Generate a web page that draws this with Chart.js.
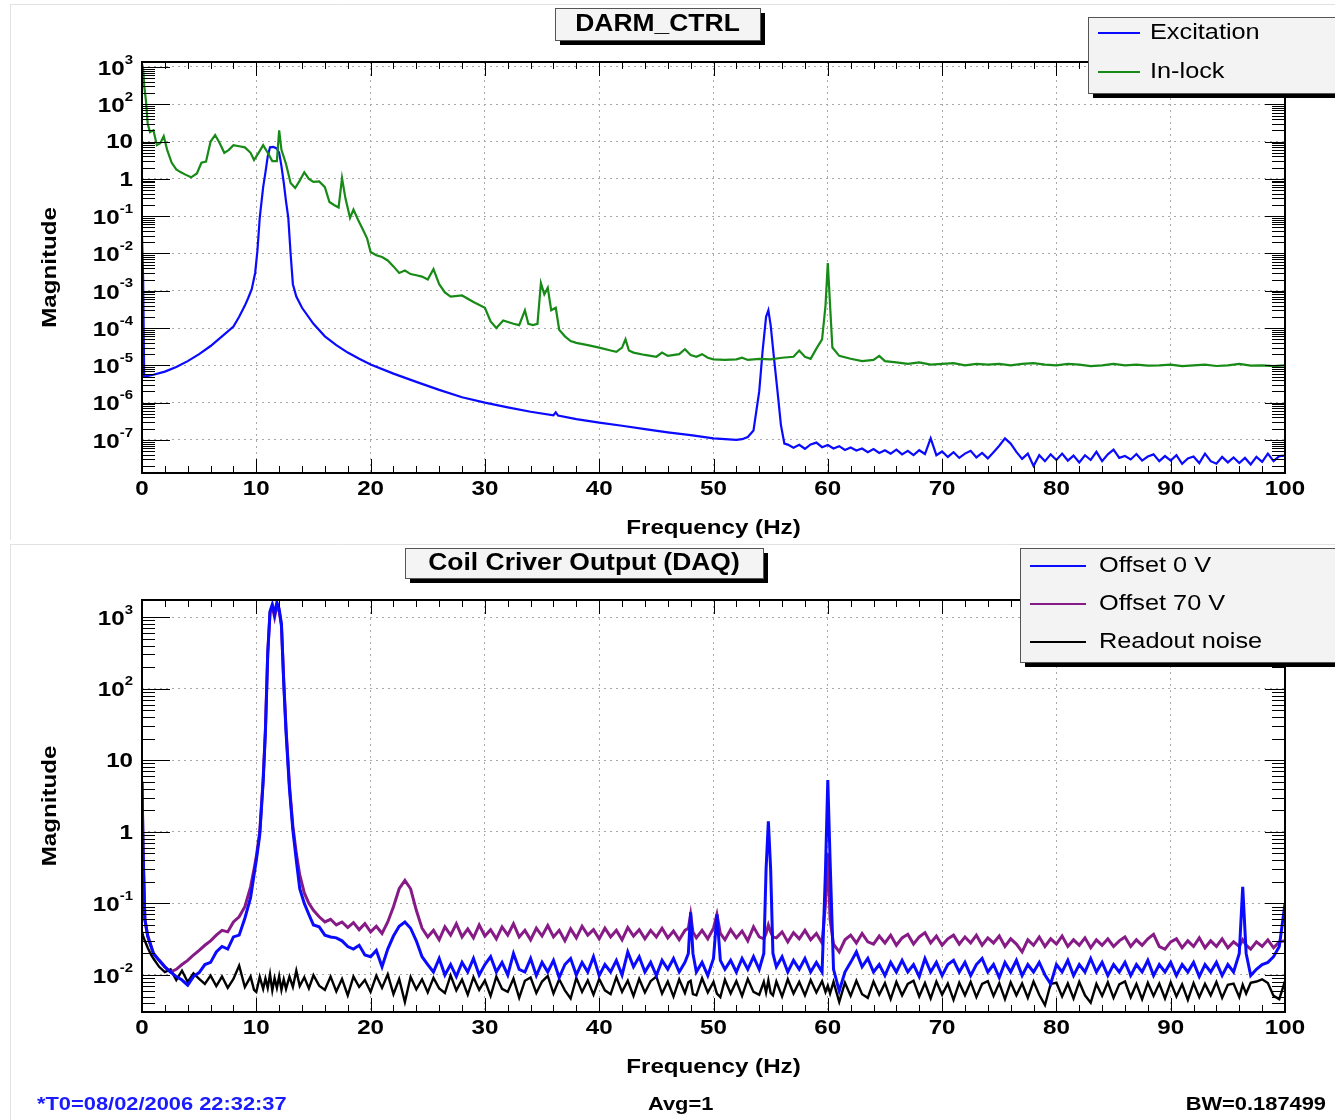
<!DOCTYPE html>
<html>
<head>
<meta charset="utf-8">
<title>DARM_CTRL / Coil Driver Output</title>
<script src="https://cdn.jsdelivr.net/npm/chart.js@4.4.1/dist/chart.umd.min.js"></script>
<style>
    body { margin: 0; background: #fff; }
    #wrap { position: relative; width: 1335px; height: 1120px; overflow: hidden; }
    #darmChart { position: absolute; left: 0; top: 0; }
    #coilChart { position: absolute; left: 0; top: 540px; }
</style>
</head>
<body>
<div id="wrap">
    <canvas id="darmChart" width="1335" height="540"></canvas>
    <canvas id="coilChart" width="1335" height="580"></canvas>
</div>
<script>
// ---- data ----
const freqTicks = [0, 10, 20, 30, 40, 50, 60, 70, 80, 90, 100];
const darmTicks = [1e3, 1e2, 10, 1, 1e-1, 1e-2, 1e-3, 1e-4, 1e-5, 1e-6, 1e-7];
const coilTicks = [1e3, 1e2, 10, 1, 1e-1, 1e-2];

// DARM_CTRL: Excitation
const excFreq = [
    0, 0.1, 0.19, 0.5, 1, 2, 3, 4, 5, 6,
    7, 8, 8.5, 9, 9.3, 9.6, 9.9, 10.1, 10.3, 10.6,
    10.8, 11, 11.2, 11.5, 11.8, 12, 12.2, 12.4, 12.6, 12.8,
    13, 13.2, 13.5, 14, 15, 16, 17, 18, 19, 20,
    22, 24, 26, 28, 30, 32, 34, 36, 36.2, 36.4,
    38, 40, 42, 44, 46, 48, 50, 51, 52, 52.5,
    53, 53.5, 54, 54.3, 54.6, 54.8, 55, 55.3, 55.6, 55.9,
    56.2, 56.5, 57, 57.5, 58, 58.5, 59, 59.5, 60, 60.5,
    61, 61.5, 62, 62.5, 63, 63.5, 64, 64.5, 65, 65.5,
    66, 66.5, 67, 67.5, 68, 68.5, 69, 69.5, 70, 70.5,
    71, 71.5, 72, 72.5, 73, 73.5, 74, 74.5, 75, 75.5,
    76, 76.5, 77, 77.5, 78, 78.5, 79, 79.5, 80, 80.5,
    81, 81.5, 82, 82.5, 83, 83.5, 84, 84.5, 85, 85.5,
    86, 86.5, 87, 87.5, 88, 88.5, 89, 89.5, 90, 90.5,
    91, 91.5, 92, 92.5, 93, 93.5, 94, 94.5, 95, 95.5,
    96, 96.5, 97, 97.5, 98, 98.5, 99, 99.5, 100
];
const excMag = [
    0.03, 2e-3, 5e-6, 5.2e-6, 5.6e-6, 6.8e-6, 9e-6, 1.3e-5, 2e-5, 3.3e-5,
    6e-5, 1.1e-4, 2e-4, 4e-4, 6.5e-4, 1.1e-3, 3e-3, 1.2e-2, 0.09, 0.6,
    1.5, 4, 7, 7.2, 6.5, 5, 2.2, 0.8, 0.25, 0.09,
    0.01, 1.5e-3, 7e-4, 3.5e-4, 1.3e-4, 6e-5, 3.5e-5, 2.2e-5, 1.5e-5, 1.05e-5,
    6e-6, 3.6e-6, 2.2e-6, 1.4e-6, 1e-6, 7.5e-7, 5.7e-7, 4.6e-7, 5.5e-7, 4.5e-7,
    3.6e-7, 2.9e-7, 2.4e-7, 1.95e-7, 1.6e-7, 1.35e-7, 1.1e-7, 1.05e-7, 1e-7, 1.05e-7,
    1.2e-7, 1.8e-7, 2e-6, 2.5e-5, 2e-4, 3e-4, 1.2e-4, 1.5e-5, 2e-6, 2.5e-7,
    8e-8, 7.5e-8, 6.2e-8, 7.4e-8, 5.8e-8, 7.6e-8, 8.5e-8, 6.4e-8, 7.3e-8, 5.9e-8,
    6.8e-8, 5.4e-8, 6.3e-8, 5.2e-8, 5.9e-8, 4.7e-8, 5.7e-8, 4.5e-8, 5.3e-8, 4.3e-8,
    5.5e-8, 4.1e-8, 5.1e-8, 3.9e-8, 5.3e-8, 4.2e-8, 1.1e-7, 3.9e-8, 4.9e-8, 3.5e-8,
    4.7e-8, 3.3e-8, 4.3e-8, 5.1e-8, 3.4e-8, 4.5e-8, 3.2e-8, 4.7e-8, 7e-8, 1.1e-7,
    8e-8, 4.8e-8, 3.1e-8, 4.3e-8, 2e-8, 3.9e-8, 2.7e-8, 4.1e-8, 2.9e-8, 4.3e-8,
    2.8e-8, 3.8e-8, 2.5e-8, 3.9e-8, 2.9e-8, 4.8e-8, 2.7e-8, 4.1e-8, 5.5e-8, 3.3e-8,
    3.7e-8, 3e-8, 4.2e-8, 2.8e-8, 3.6e-8, 4.1e-8, 2.7e-8, 3.7e-8, 2.8e-8, 3.9e-8,
    2.3e-8, 3.2e-8, 3.6e-8, 2.4e-8, 4.3e-8, 2.7e-8, 2.3e-8, 3.5e-8, 2.5e-8, 3.4e-8,
    2.4e-8, 3.3e-8, 2.2e-8, 3.5e-8, 2.6e-8, 4.3e-8, 2.7e-8, 3.7e-8, 3.8e-8
];

// DARM_CTRL: In-lock
const lockFreq = [
    0, 0.1, 0.2, 0.35, 0.5, 0.7, 1, 1.3, 1.6, 1.9,
    2.2, 2.6, 3, 3.4, 3.8, 4.3, 4.8, 5.2, 5.6, 6,
    6.4, 6.8, 7.2, 7.6, 8, 8.5, 9, 9.5, 9.8, 10.2,
    10.6, 11, 11.4, 11.8, 12, 12.2, 12.6, 13, 13.4, 13.8,
    14.2, 14.6, 15, 15.5, 16, 16.4, 16.8, 17.2, 17.5, 17.8,
    18.2, 18.5, 18.9, 19.3, 19.7, 20, 20.5, 21, 21.5, 22,
    22.5, 23, 23.5, 24, 24.5, 25, 25.5, 26, 26.5, 27,
    28, 29, 30, 30.5, 31, 31.6, 32.5, 33, 33.5, 33.8,
    34.2, 34.6, 34.9, 35.2, 35.5, 35.8, 36.2, 36.5, 37, 37.5,
    38, 39, 40, 41, 41.5, 42, 42.3, 42.6, 43, 44,
    45, 45.5, 46, 47, 47.5, 48, 48.5, 49, 49.5, 50,
    51, 52, 52.5, 53, 54, 55, 56, 57, 57.5, 58,
    58.5, 59, 59.5, 59.8, 60, 60.2, 60.4, 61, 62, 63,
    64, 64.5, 65, 66, 67, 68, 69, 70, 71, 72,
    73, 74, 75, 76, 77, 78, 79, 80, 81, 82,
    83, 84, 85, 86, 87, 88, 89, 90, 91, 92,
    93, 94, 95, 96, 97, 98, 99, 100
];
const lockMag = [
    1200, 900, 300, 120, 30, 18, 20, 8, 9, 14,
    6, 2.7, 1.8, 1.5, 1.3, 1.1, 1.4, 2.7, 2.9, 10,
    15, 9, 5, 6, 8, 7.5, 7, 5, 3.2, 5,
    8, 5, 3, 3, 20, 6, 2.5, 0.78, 0.57, 0.9,
    1.5, 1, 0.83, 0.85, 0.6, 0.24, 0.2, 0.17, 1.05, 0.3,
    0.09, 0.15, 0.08, 0.045, 0.025, 0.011, 9e-3, 8e-3, 6.5e-3, 4.5e-3,
    3e-3, 3.5e-3, 2.8e-3, 2.6e-3, 2.4e-3, 2e-3, 3.8e-3, 1.5e-3, 9e-4, 7e-4,
    7.5e-4, 5e-4, 3.5e-4, 1.5e-4, 1e-4, 1.6e-4, 1.3e-4, 1.2e-4, 3e-4, 1.3e-4,
    1.2e-4, 1.3e-4, 1.6e-3, 8e-4, 1.2e-3, 3e-4, 3.5e-4, 9e-5, 6e-5, 4.5e-5,
    4e-5, 3.5e-5, 3e-5, 2.5e-5, 2.3e-5, 3e-5, 5e-5, 2.5e-5, 2.2e-5, 1.9e-5,
    1.7e-5, 2.2e-5, 1.8e-5, 2e-5, 2.7e-5, 1.9e-5, 1.7e-5, 2e-5, 1.6e-5, 1.45e-5,
    1.4e-5, 1.45e-5, 1.6e-5, 1.4e-5, 1.5e-5, 1.45e-5, 1.6e-5, 1.7e-5, 2.5e-5, 1.7e-5,
    1.5e-5, 2.8e-5, 5e-5, 4e-4, 5.5e-3, 4e-4, 3e-5, 1.8e-5, 1.5e-5, 1.3e-5,
    1.4e-5, 1.8e-5, 1.3e-5, 1.2e-5, 1.1e-5, 1.2e-5, 1.05e-5, 1.1e-5, 1.15e-5, 1e-5,
    1.1e-5, 1.05e-5, 1.1e-5, 1e-5, 1.1e-5, 1.15e-5, 1.05e-5, 1e-5, 1.1e-5, 1.05e-5,
    9.5e-6, 1e-5, 1.1e-5, 1e-5, 1.05e-5, 9.8e-6, 1e-5, 1.05e-5, 9.5e-6, 1e-5,
    1.05e-5, 9.6e-6, 1e-5, 1.1e-5, 9.8e-6, 1e-5, 9.5e-6, 1e-5
];

// Coil driver output: shared frequency grid
const coilFreq = [
    0, 0.1, 0.25, 0.5, 0.8, 1, 1.5, 2, 2.5,
    3, 3.5, 4, 4.5, 5, 5.5, 6, 6.5, 7, 7.5,
    8, 8.5, 9, 9.5, 9.8, 10, 10.3, 10.6, 10.8, 11,
    11.2, 11.4, 11.6, 11.8, 12, 12.2, 12.4, 12.6, 12.9, 13.2,
    13.5, 13.8, 14.2, 14.6, 15, 15.5, 16, 16.5, 17, 17.5,
    18, 18.5, 19, 19.5, 20, 20.5, 21, 21.5, 22, 22.5,
    23, 23.5, 24, 24.5, 25, 25.5, 26, 26.5, 27, 27.5,
    28, 28.5, 29, 29.5, 30, 30.5, 31, 31.5, 32, 32.5,
    33, 33.5, 34, 34.5, 35, 35.5, 36, 36.5, 37, 37.5,
    38, 38.5, 39, 39.5, 40, 40.5, 41, 41.5, 42, 42.5,
    43, 43.5, 44, 44.5, 45, 45.5, 46, 46.5, 47, 47.5,
    47.8, 48, 48.2, 48.5, 49, 49.5, 50, 50.3, 50.6, 51,
    51.5, 52, 52.5, 53, 53.5, 54, 54.4, 54.6, 54.8, 55,
    55.2, 55.5, 56, 56.5, 57, 57.5, 58, 58.5, 59, 59.5,
    59.8, 60, 60.2, 60.5, 61, 61.5, 62, 62.5, 63, 63.5,
    64, 64.5, 65, 65.5, 66, 66.5, 67, 67.5, 68, 68.5,
    69, 69.5, 70, 70.5, 71, 71.5, 72, 72.5, 73, 73.5,
    74, 74.5, 75, 75.5, 76, 76.5, 77, 77.5, 78, 78.5,
    79, 79.5, 80, 80.5, 81, 81.5, 82, 82.5, 83, 83.5,
    84, 84.5, 85, 85.5, 86, 86.5, 87, 87.5, 88, 88.5,
    89, 89.5, 90, 90.5, 91, 91.5, 92, 92.5, 93, 93.5,
    94, 94.5, 95, 95.5, 96, 96.3, 96.6, 97, 97.5, 98,
    98.5, 99, 99.5, 100
];
const offset0 = [
    5, 0.5, 0.06, 0.035, 0.025, 0.02, 0.016, 0.013, 0.011,
    0.0095, 0.0085, 0.0072, 0.0095, 0.0108, 0.014, 0.015, 0.021, 0.025, 0.023,
    0.034, 0.036, 0.062, 0.12, 0.25, 0.4, 0.9, 5, 25, 300,
    1200, 1500, 1100, 1600, 1300, 800, 120, 25, 4, 1.05,
    0.4, 0.16, 0.1, 0.07, 0.05, 0.047, 0.036, 0.034, 0.033, 0.03,
    0.025, 0.023, 0.026, 0.019, 0.018, 0.022, 0.013, 0.023, 0.035, 0.048,
    0.055, 0.045, 0.03, 0.018, 0.014, 0.011, 0.017, 0.010, 0.014, 0.0095,
    0.015, 0.011, 0.017, 0.010, 0.014, 0.018, 0.011, 0.015, 0.010, 0.02,
    0.012, 0.011, 0.017, 0.0098, 0.015, 0.011, 0.016, 0.0092, 0.014, 0.017,
    0.010, 0.015, 0.011, 0.018, 0.0098, 0.014, 0.011, 0.016, 0.010, 0.021,
    0.013, 0.018, 0.011, 0.015, 0.0098, 0.016, 0.012, 0.017, 0.011, 0.015,
    0.02, 0.075, 0.02, 0.011, 0.015, 0.0098, 0.017, 0.07, 0.016, 0.012,
    0.016, 0.011, 0.017, 0.012, 0.018, 0.012, 0.02, 0.3, 1.4, 0.3,
    0.02, 0.013, 0.018, 0.011, 0.016, 0.012, 0.017, 0.011, 0.015, 0.011,
    0.3, 5.3, 0.4, 0.012, 0.006, 0.011, 0.015, 0.021, 0.013, 0.017,
    0.011, 0.014, 0.0098, 0.015, 0.011, 0.016, 0.011, 0.014, 0.0095, 0.017,
    0.011, 0.015, 0.0098, 0.014, 0.016, 0.011, 0.015, 0.0098, 0.014, 0.017,
    0.011, 0.014, 0.0092, 0.015, 0.011, 0.016, 0.0098, 0.014, 0.011, 0.015,
    0.010, 0.0075, 0.014, 0.011, 0.016, 0.0098, 0.014, 0.011, 0.017, 0.011,
    0.015, 0.0098, 0.014, 0.011, 0.015, 0.0098, 0.014, 0.011, 0.016, 0.0098,
    0.014, 0.011, 0.015, 0.0098, 0.014, 0.011, 0.015, 0.0095, 0.014, 0.011,
    0.015, 0.0098, 0.014, 0.011, 0.02, 0.17, 0.02, 0.0098, 0.012, 0.014,
    0.015, 0.018, 0.025, 0.1
];
const offset70 = [
    5, 0.5, 0.06, 0.035, 0.025, 0.02, 0.016, 0.013, 0.011,
    0.012, 0.014, 0.016, 0.019, 0.022, 0.026, 0.03, 0.036, 0.042, 0.04,
    0.055, 0.065, 0.09, 0.17, 0.3, 0.45, 1.0, 5.5, 28, 320,
    1150, 1400, 1000, 1450, 1200, 750, 130, 28, 4.5, 1.2,
    0.5, 0.25, 0.14, 0.1, 0.08, 0.065, 0.055, 0.06, 0.05, 0.055,
    0.046, 0.054, 0.043, 0.052, 0.04, 0.048, 0.038, 0.055, 0.09, 0.16,
    0.21, 0.16, 0.08, 0.045, 0.034, 0.042, 0.031, 0.047, 0.036, 0.052,
    0.034, 0.044, 0.033, 0.05, 0.035, 0.043, 0.032, 0.047, 0.036, 0.052,
    0.034, 0.042, 0.031, 0.045, 0.035, 0.049, 0.034, 0.042, 0.03, 0.044,
    0.033, 0.048, 0.036, 0.043, 0.032, 0.045, 0.034, 0.042, 0.031, 0.046,
    0.035, 0.043, 0.032, 0.042, 0.034, 0.045, 0.033, 0.041, 0.031, 0.042,
    0.045, 0.07, 0.04, 0.033, 0.042, 0.032, 0.045, 0.07, 0.038, 0.031,
    0.043, 0.033, 0.041, 0.03, 0.047, 0.034, 0.032, 0.038, 0.05, 0.04,
    0.034, 0.033, 0.04, 0.029, 0.039, 0.032, 0.042, 0.031, 0.038, 0.028,
    0.1, 0.5, 0.06, 0.027, 0.021, 0.031, 0.036, 0.028, 0.038, 0.029,
    0.027, 0.035, 0.028, 0.036, 0.026, 0.033, 0.037, 0.027, 0.034, 0.039,
    0.028, 0.035, 0.026, 0.032, 0.036, 0.027, 0.034, 0.028, 0.036, 0.026,
    0.033, 0.028, 0.035, 0.025, 0.032, 0.027, 0.021, 0.031, 0.026, 0.034,
    0.025, 0.032, 0.027, 0.035, 0.025, 0.031, 0.026, 0.033, 0.024, 0.031,
    0.026, 0.032, 0.025, 0.03, 0.034, 0.025, 0.031, 0.026, 0.032, 0.037,
    0.025, 0.023, 0.029, 0.032, 0.024, 0.03, 0.025, 0.033, 0.024, 0.03,
    0.025, 0.032, 0.024, 0.029, 0.025, 0.031, 0.026, 0.023, 0.029, 0.025,
    0.031, 0.024, 0.029, 0.03
];
const readout = [
    0.04, 0.035, 0.03, 0.024, 0.019, 0.017, 0.013, 0.011, 0.012,
    0.0085, 0.0115, 0.008, 0.0105, 0.0088, 0.0075, 0.0098, 0.007, 0.0095, 0.0066,
    0.0088, 0.0135, 0.0068, 0.0095, 0.0062, 0.0058, 0.0094, 0.0064, 0.0089, 0.0066,
    0.0102, 0.0061, 0.009, 0.0066, 0.0096, 0.0062, 0.0087, 0.0064, 0.0095, 0.0068,
    0.0115, 0.007, 0.0093, 0.0065, 0.0099, 0.0071, 0.0062, 0.0095, 0.0059, 0.0088,
    0.0052, 0.0095, 0.0068, 0.0085, 0.0058, 0.0098, 0.0066, 0.0102, 0.0054, 0.0088,
    0.0042, 0.0094, 0.0063, 0.0087, 0.0057, 0.0091, 0.0065, 0.0056, 0.0099, 0.0061,
    0.0086, 0.0053, 0.0093, 0.0062, 0.0084, 0.0051, 0.0095, 0.0064, 0.0058, 0.0089,
    0.0048, 0.0083, 0.0092, 0.0056, 0.0081, 0.0097, 0.0055, 0.0087, 0.0061, 0.0047,
    0.0091, 0.0058, 0.0084, 0.0053, 0.0088, 0.0061, 0.0054, 0.0093, 0.0058, 0.0083,
    0.0051, 0.0088, 0.0057, 0.0082, 0.0095, 0.0055, 0.0081, 0.005, 0.0087, 0.0056,
    0.0079, 0.0083, 0.0054, 0.0052, 0.009, 0.0057, 0.008, 0.0055, 0.0049, 0.0086,
    0.0055, 0.0082, 0.0051, 0.0088, 0.0058, 0.0053, 0.008, 0.0057, 0.0084, 0.0056,
    0.0052, 0.0081, 0.005, 0.0087, 0.0055, 0.008, 0.0052, 0.0085, 0.0057, 0.0082,
    0.0058, 0.0071, 0.0055, 0.008, 0.0042, 0.0078, 0.0051, 0.0083, 0.0054, 0.0048,
    0.0081, 0.0053, 0.0077, 0.0046, 0.008, 0.0052, 0.0075, 0.0083, 0.005, 0.0077,
    0.0047, 0.0081, 0.0053, 0.0076, 0.0045, 0.0078, 0.0052, 0.008, 0.0049, 0.0075,
    0.0082, 0.0051, 0.0077, 0.0046, 0.0079, 0.0052, 0.0076, 0.0048, 0.0081, 0.0053,
    0.0038, 0.0075, 0.0078, 0.005, 0.0076, 0.0047, 0.008, 0.0052, 0.0041, 0.0075,
    0.0051, 0.0079, 0.0048, 0.0074, 0.0081, 0.0049, 0.0075, 0.0046, 0.0078, 0.0051,
    0.0076, 0.0047, 0.0079, 0.005, 0.0074, 0.0045, 0.0077, 0.0049, 0.0075, 0.0052,
    0.008, 0.0048, 0.0073, 0.0076, 0.0049, 0.0073, 0.0055, 0.0078, 0.0081, 0.0087,
    0.0077, 0.0051, 0.0046, 0.0082
];

// ---- drawing helpers ----
const FONT = '"Liberation Sans", Arial, Helvetica, sans-serif';
const SX = 1.15; // ROOT's Helvetica renders a bit wider than Liberation Sans

function wideText(ctx, str, x, y, size, weight, align, color) {
    ctx.save();
    ctx.font = weight + ' ' + size + 'px ' + FONT;
    ctx.fillStyle = color || '#000';
    ctx.textBaseline = 'middle';
    ctx.textAlign = 'left';
    const w = ctx.measureText(str).width * SX;
    const left = align === 'center' ? x - w / 2 : (align === 'right' ? x - w : x);
    ctx.translate(left, y);
    ctx.scale(SX, 1);
    ctx.fillText(str, 0, 0);
    ctx.restore();
}

function logLabel(ctx, value, x, y) {
    const exp = Math.round(Math.log10(value));
    if (exp === 0 || exp === 1) {
        wideText(ctx, exp === 0 ? '1' : '10', x, y + 1, 21, 'bold', 'right');
        return;
    }
    ctx.font = 'bold 13px ' + FONT;
    const we = ctx.measureText(String(exp)).width * SX;
    wideText(ctx, '10', x - we, y + 2, 21, 'bold', 'right');
    wideText(ctx, String(exp), x, y - 7, 13, 'bold', 'right');
}

function shadowBox(ctx, x, y, w, h, fill) {
    ctx.fillStyle = '#000';
    ctx.fillRect(x + 5, y + 5, w, h);
    ctx.fillStyle = fill;
    ctx.fillRect(x, y, w, h);
    ctx.strokeStyle = '#555';
    ctx.lineWidth = 1;
    ctx.strokeRect(x + 0.5, y + 0.5, w, h);
}

const rootFrame = {
    id: 'rootFrame',
    beforeDraw(chart) {
        const ctx = chart.ctx;
        ctx.save();
        ctx.strokeStyle = '#e2e2e2';
        ctx.lineWidth = 1;
        ctx.beginPath();
        ctx.moveTo(10.5, 4);
        ctx.lineTo(10.5, chart.height);
        ctx.moveTo(10, 4.5);
        ctx.lineTo(chart.width, 4.5);
        ctx.stroke();
        ctx.restore();
    },
    afterDraw(chart, args, opts) {
        const ctx = chart.ctx;
        const area = chart.chartArea;
        const xs = chart.scales.x;
        const ys = chart.scales.y;
        ctx.save();
        ctx.strokeStyle = '#000';
        ctx.lineWidth = 1;
        ctx.beginPath();
        // log-axis tick marks, inside the frame on both sides
        const decades = opts.yTicks.concat([opts.yTicks[opts.yTicks.length - 1] / 10]);
        decades.forEach(d => {
            for (let k = 1; k <= 9; k++) {
                const v = d * k;
                if (v < ys.min || v > ys.max) continue;
                const py = Math.round(ys.getPixelForValue(v)) + 0.5;
                ctx.moveTo(area.left, py);
                ctx.lineTo(area.left + (k === 1 ? 28 : 13), py);
                ctx.moveTo(area.right, py);
                ctx.lineTo(area.right - (k === 1 ? 20 : 13), py);
            }
        });
        // frequency tick marks, every 2 Hz, bottom and top
        for (let f = 0; f <= 100; f += 2) {
            const px = Math.round(xs.getPixelForValue(f)) + 0.5;
            const len = f % 10 === 0 ? 14 : 7;
            ctx.moveTo(px, area.bottom);
            ctx.lineTo(px, area.bottom - len);
            ctx.moveTo(px, area.top);
            ctx.lineTo(px, area.top + len);
        }
        ctx.stroke();
        ctx.lineWidth = 2;
        ctx.strokeRect(area.left, area.top, area.right - area.left, area.bottom - area.top);

        // tick labels
        opts.yTicks.forEach(v => logLabel(ctx, v, area.left - 9, ys.getPixelForValue(v)));
        xs.ticks.forEach(t => {
            wideText(ctx, String(t.value), xs.getPixelForValue(t.value), area.bottom + 16, 21, 'bold', 'center');
        });

        // axis titles
        wideText(ctx, 'Frequency (Hz)', (area.left + area.right) / 2, area.bottom + 55, 21, 'bold', 'center');
        ctx.save();
        ctx.translate(50, (area.top + area.bottom) / 2);
        ctx.rotate(-Math.PI / 2);
        wideText(ctx, 'Magnitude', 0, 0, 21, 'bold', 'center');
        ctx.restore();

        // title box
        const tb = opts.titleBox;
        shadowBox(ctx, tb[0], tb[1], tb[2], tb[3], '#f4f4f4');
        wideText(ctx, opts.title, tb[0] + tb[2] / 2, tb[1] + tb[3] / 2 + 1, 23, 'bold', 'center');

        // legend box
        const lb = opts.legendBox;
        shadowBox(ctx, lb[0], lb[1], lb[2], lb[3], '#f3f3f3');
        chart.data.datasets.forEach((ds, i) => {
            const y = opts.legendRows[i];
            ctx.strokeStyle = ds.borderColor;
            ctx.lineWidth = 2;
            ctx.beginPath();
            ctx.moveTo(opts.legendLine[0], y);
            ctx.lineTo(opts.legendLine[1], y);
            ctx.stroke();
            wideText(ctx, ds.label, opts.legendText, y, 22, 'normal', 'left');
        });

        // run information under the lower plot
        if (opts.footer) {
            wideText(ctx, '*T0=08/02/2006 22:32:37', 37, 565, 19, 'bold', 'left', '#1a1aff');
            wideText(ctx, 'Avg=1', 648, 565, 19, 'bold', 'left');
            wideText(ctx, 'BW=0.187499', 1326, 565, 19, 'bold', 'right');
        }
        ctx.restore();
    }
};

function toPoints(freq, mag) {
    return freq.map((f, i) => ({ x: f, y: mag[i] }));
}

function scaleOptions(yMin, yMax, yTicks) {
    return {
        x: {
            type: 'linear',
            min: 0,
            max: 100,
            bounds: 'data',
            ticks: { display: false, stepSize: 10 },
            afterBuildTicks: scale => { scale.ticks = freqTicks.map(v => ({ value: v })); },
            grid: { color: '#a8a8a8', lineWidth: 1, drawTicks: false },
            border: { display: false, dash: [2, 4] },
        },
        y: {
            type: 'logarithmic',
            min: yMin,
            max: yMax,
            bounds: 'data',
            ticks: { display: false },
            afterBuildTicks: scale => { scale.ticks = yTicks.map(v => ({ value: v })); },
            grid: { color: '#a8a8a8', lineWidth: 1, drawTicks: false },
            border: { display: false, dash: [2, 4] },
        },
    };
}

let darmChart = null;
let coilChart = null;

function darmChartInit() {
    const ctx = document.getElementById('darmChart').getContext('2d');
    darmChart = new Chart(ctx, {
        type: 'line',
        data: {
            datasets: [{
                label: 'Excitation',
                data: toPoints(excFreq, excMag),
                borderColor: '#0a0aff',
                borderWidth: 2.2,
                order: 1,
            }, {
                label: 'In-lock',
                data: toPoints(lockFreq, lockMag),
                borderColor: '#178a17',
                borderWidth: 2.2,
                order: 0,
            }],
        },
        options: {
            responsive: false,
            animation: false,
            events: [],
            layout: { padding: { left: 142, right: 50, top: 62, bottom: 67 } },
            elements: { point: { radius: 0 }, line: { tension: 0 } },
            scales: scaleOptions(1.3e-8, 1360, darmTicks),
            plugins: {
                legend: { display: false },
                tooltip: { enabled: false },
                rootFrame: {
                    yTicks: darmTicks,
                    title: 'DARM_CTRL',
                    titleBox: [555, 8, 205, 32],
                    legendBox: [1088, 17, 262, 76],
                    legendRows: [33, 72],
                    legendLine: [1098, 1140],
                    legendText: 1150,
                    footer: false,
                },
            },
        },
        plugins: [rootFrame],
    });
}

function coilChartInit() {
    const ctx = document.getElementById('coilChart').getContext('2d');
    coilChart = new Chart(ctx, {
        type: 'line',
        data: {
            datasets: [{
                label: 'Offset 0 V',
                data: toPoints(coilFreq, offset0),
                borderColor: '#0a0aff',
                borderWidth: 3,
                order: 0,
            }, {
                label: 'Offset 70 V',
                data: toPoints(coilFreq, offset70),
                borderColor: '#861a86',
                borderWidth: 3,
                order: 1,
            }, {
                label: 'Readout noise',
                data: toPoints(coilFreq, readout),
                borderColor: '#000000',
                borderWidth: 2.4,
                order: 2,
            }],
        },
        options: {
            responsive: false,
            animation: false,
            events: [],
            layout: { padding: { left: 142, right: 50, top: 60, bottom: 108 } },
            elements: { point: { radius: 0 }, line: { tension: 0 } },
            scales: scaleOptions(3.04e-3, 1730, coilTicks),
            plugins: {
                legend: { display: false },
                tooltip: { enabled: false },
                rootFrame: {
                    yTicks: coilTicks,
                    title: 'Coil Criver Output (DAQ)',
                    titleBox: [405, 8, 358, 30],
                    legendBox: [1020, 8, 330, 114],
                    legendRows: [26, 64, 102],
                    legendLine: [1030, 1086],
                    legendText: 1099,
                    footer: true,
                },
            },
        },
        plugins: [rootFrame],
    });
}

darmChartInit();
coilChartInit();
</script>
</body>
</html>
